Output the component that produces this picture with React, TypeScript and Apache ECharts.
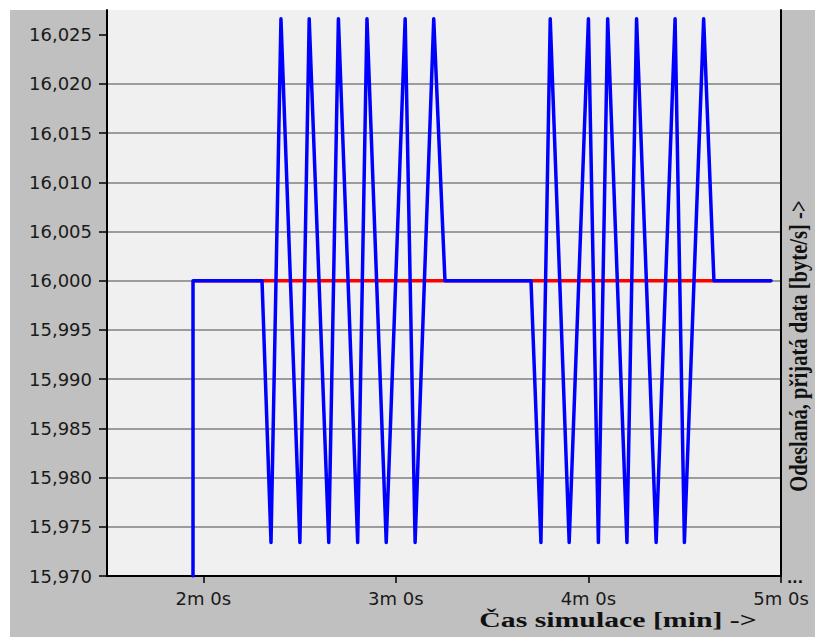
import React, { useEffect, useRef } from "react";
import * as echarts from "echarts";

// Time in seconds, values in byte/s
const blueTimes = [
  116.8, 116.8, 138.3,
  141.1, 144.2, 150.1, 153.0, 159.1, 162.1, 168.1, 171.0, 177.0, 182.9, 186.0, 191.8,
  195.3, 222.1,
  225.2, 228.1, 234.0, 240.0, 243.1, 246.0, 252.0, 255.0, 261.1, 267.0, 269.9, 275.9,
  279.1, 296.9,
];
const blueValues = [
  15970, 16000, 16000,
  15973.4, 16026.6, 15973.4, 16026.6, 15973.4, 16026.6, 15973.4, 16026.6, 15973.4, 16026.6, 15973.4, 16026.6,
  16000, 16000,
  15973.4, 16026.6, 15973.4, 16026.6, 15973.4, 16026.6, 15973.4, 16026.6, 15973.4, 16026.6, 15973.4, 16026.6,
  16000, 16000,
];
const redTimes = [116.8, 296.9];
const redValues = [16000, 16000];

const xTicks = [120, 180, 240, 300];
const xTickLabels = ["2m 0s", "3m 0s", "4m 0s", "5m 0s"];
const yTicks = [15970, 15975, 15980, 15985, 15990, 15995, 16000, 16005, 16010, 16015, 16020, 16025];

const xTitle = "Čas simulace [min] ->";
const yTitle = "Odeslaná, přijatá data [byte/s] ->";

export default function App() {
  const ref = useRef<HTMLDivElement>(null);
  useEffect(() => {
    if (!ref.current) return;
    const chart = echarts.init(ref.current, null, { renderer: "svg" });
    const labelFont = {
      fontFamily: "DejaVu Sans",
      fontSize: 18,
      color: "#1a1a1a",
    };
    chart.setOption({
      animation: false,
      backgroundColor: "#c0c0c0",
      grid: {
        left: 107,
        top: 10,
        right: 34,
        bottom: 61,
        show: true,
        backgroundColor: "#f0f0f0",
        borderWidth: 0,
      },
      xAxis: {
        type: "value",
        min: 90,
        max: 300,
        axisLine: { show: true, onZero: false, lineStyle: { color: "#000", width: 2 } },
        axisTick: {
          show: true,
          customValues: xTicks,
          length: 7,
          lineStyle: { color: "#000", width: 1.5 },
        },
        axisLabel: {
          ...labelFont,
          customValues: xTicks,
          margin: 13,
          formatter: (v: number) => {
            const i = xTicks.indexOf(Math.round(v));
            return i >= 0 ? xTickLabels[i] : "";
          },
        },
        splitLine: { show: false },
      },
      yAxis: [
        {
          type: "value",
          min: 15970,
          max: 16027.5,
          interval: 5,
          axisLine: { show: true, onZero: false, lineStyle: { color: "#000", width: 2 } },
          axisTick: {
            show: true,
            customValues: yTicks,
            length: 8,
            lineStyle: { color: "#000", width: 1.5 },
          },
          axisLabel: {
            ...labelFont,
            customValues: yTicks,
            margin: 15,
            formatter: (v: number) => Math.round(v).toLocaleString("en-US"),
          },
          splitLine: {
            show: true,
            showMaxLine: false,
            lineStyle: { color: "#808080", width: 1.5 },
          },
        },
        {
          type: "value",
          position: "right",
          min: 15970,
          max: 16027.5,
          interval: 5,
          axisLine: { show: true, onZero: false, lineStyle: { color: "#000", width: 2 } },
          axisTick: { show: false },
          axisLabel: { show: false },
          splitLine: { show: false },
        },
      ],
      series: [
        {
          type: "line",
          data: redTimes.map((t, i) => [t, redValues[i]]),
          showSymbol: false,
          symbol: "none",
          lineStyle: { color: "#ff0000", width: 3.5 },
          z: 2,
        },
        {
          type: "line",
          data: blueTimes.map((t, i) => [t, blueValues[i]]),
          showSymbol: false,
          symbol: "none",
          lineStyle: { color: "#0000ff", width: 3.5, join: "round", cap: "round" },
          z: 3,
        },
      ],
      graphic: [
        { type: "rect", shape: { x: 0, y: 0, width: 815, height: 10 }, style: { fill: "#ffffff" }, silent: true },
        { type: "rect", shape: { x: 0, y: 0, width: 10, height: 637 }, style: { fill: "#ffffff" }, silent: true },
        {
          type: "text",
          x: 618,
          y: 620,
          scaleX: 1.49,
          style: {
            text: xTitle,
            fontFamily: "Liberation Serif",
            fontWeight: "bold",
            fontSize: 20,
            fill: "#111",
            align: "center",
            verticalAlign: "middle",
          },
        },
        {
          type: "text",
          x: 798,
          y: 346,
          rotation: Math.PI / 2,
          scaleX: 1.03,
          scaleY: 1.3,
          style: {
            text: yTitle,
            fontFamily: "Liberation Serif",
            fontWeight: "bold",
            fontSize: 20,
            fill: "#111",
            align: "center",
            verticalAlign: "middle",
          },
        },
        {
          type: "text",
          x: 795,
          y: 578,
          style: {
            text: "...",
            fontFamily: "DejaVu Sans",
            fontWeight: "bold",
            fontSize: 14,
            fill: "#111",
            align: "center",
            verticalAlign: "middle",
          },
        },
      ],
    });
    return () => chart.dispose();
  }, []);
  return (
    <div
      ref={ref}
      style={{ position: "absolute", left: 0, top: 0, width: 815, height: 637 }}
    />
  );
}
